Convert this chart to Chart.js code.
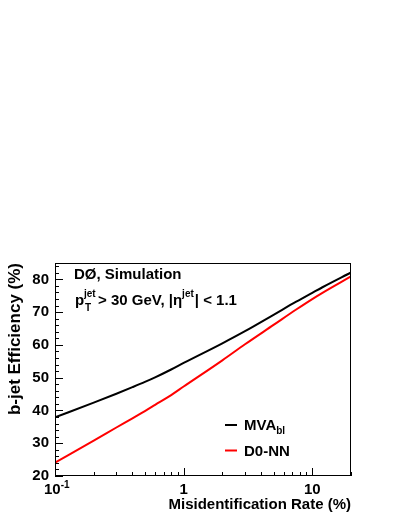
<!DOCTYPE html>
<html>
<head>
<meta charset="utf-8">
<title>b-jet efficiency</title>
<script src="https://cdn.jsdelivr.net/npm/chart.js@4.4.1/dist/chart.umd.min.js"></script>
<style>
  html, body { margin: 0; padding: 0; background: #fff; }
  #wrap { width: 399px; height: 516px; }
</style>
</head>
<body>
<div id="wrap"><canvas id="effChart" width="399" height="516"></canvas></div>
<script>
'use strict';

// misidentification rate (%) and b-jet efficiency (%)
let misidRate = [0.1, 0.2, 0.3, 0.4, 0.5, 0.6, 0.8, 1, 2, 3, 5, 7.5, 10, 12, 20];
let mvaEff = [37.9, 42.4, 45.1, 47.1, 48.7, 50.1, 52.5, 54.5, 60.5, 64.2, 69.2, 73.2, 75.9, 77.6, 82.1];
let nnEff = [24.1, 30.8, 34.8, 37.6, 39.8, 41.7, 44.7, 47.3, 55.3, 60.2, 66.1, 70.8, 74.0, 75.9, 80.9];

let yTicks = [20, 30, 40, 50, 60, 70, 80];
let xTicks = [0.1, 1, 10];
let xTickLabels = ['10', '1', '10'];

let font = '"Liberation Sans", Arial, Helvetica, sans-serif';

function toPoints(xs, ys) {
  let pts = [];
  for (let i = 0; i < xs.length; i++) {
    pts.push({ x: xs[i], y: ys[i] });
  }
  return pts;
}

// draws text pieces one after another, some raised or lowered
function drawPieces(ctx, x, y, pieces) {
  let cx = x;
  for (let i = 0; i < pieces.length; i++) {
    let p = pieces[i];
    ctx.font = 'bold ' + (p.size || 15) + 'px ' + font;
    ctx.fillText(p.t, cx, y + (p.dy || 0));
    cx += ctx.measureText(p.t).width + (p.gap || 0);
  }
}

let rootFrame = {
  id: 'rootFrame',
  afterDraw(chart) {
    let ctx = chart.ctx;
    let a = chart.chartArea;
    let xs = chart.scales.x;
    let ys = chart.scales.y;
    ctx.save();

    // frame
    ctx.strokeStyle = '#000';
    ctx.lineWidth = 1;
    ctx.strokeRect(a.left + 0.5, a.top + 0.5, a.right - a.left - 1, a.bottom - a.top - 1);

    // y ticks, inside the frame
    ctx.beginPath();
    for (let v = 20; v <= 85; v += 2) {
      let py = Math.round(ys.getPixelForValue(v)) + 0.5;
      let len = (v % 10 === 0) ? 8 : 4;
      ctx.moveTo(a.left, py);
      ctx.lineTo(a.left + len, py);
    }
    // x ticks
    for (let dec = 0.1; dec < 20; dec *= 10) {
      for (let m = 1; m <= 9; m++) {
        let v = dec * m;
        if (v > 20) break;
        let px = Math.round(xs.getPixelForValue(v)) + 0.5;
        let len = (m === 1) ? 8 : 4;
        ctx.moveTo(px, a.bottom);
        ctx.lineTo(px, a.bottom - len);
      }
    }
    ctx.stroke();

    ctx.fillStyle = '#000';
    ctx.textBaseline = 'middle';
    ctx.textAlign = 'right';
    ctx.font = 'bold 15px ' + font;
    for (let i = 0; i < yTicks.length; i++) {
      ctx.fillText(String(yTicks[i]), a.left - 6, ys.getPixelForValue(yTicks[i]));
    }

    // x tick labels
    ctx.textBaseline = 'alphabetic';
    ctx.textAlign = 'left';
    for (let i = 0; i < xTicks.length; i++) {
      let px = xs.getPixelForValue(xTicks[i]);
      if (i === 0) {
        drawPieces(ctx, px - 11, 494, [{ t: '10' }, { t: '-1', size: 10, dy: -6 }]);
      } else {
        ctx.font = 'bold 15px ' + font;
        let w = ctx.measureText(xTickLabels[i]).width;
        ctx.fillText(xTickLabels[i], px - w / 2, 494);
      }
    }

    // axis titles
    ctx.font = 'bold 15px ' + font;
    ctx.textAlign = 'right';
    ctx.fillText('Misidentification Rate (%)', a.right, 509);

    ctx.save();
    ctx.translate(20, a.top);
    ctx.rotate(-Math.PI / 2);
    ctx.font = 'bold 17px ' + font;
    ctx.textAlign = 'right';
    ctx.fillText('b-jet Efficiency (%)', 0, 0);
    ctx.restore();

    // labels inside the frame
    ctx.textAlign = 'left';
    ctx.font = 'bold 15px ' + font;
    ctx.fillText('D\u00d8, Simulation', 74, 279);

    ctx.font = 'bold 15px ' + font;
    ctx.fillText('p', 75, 305);
    ctx.font = 'bold 10px ' + font;
    ctx.fillText('jet', 84, 297);
    ctx.fillText('T', 85, 311);
    drawPieces(ctx, 98, 305, [
      { t: '> 30 GeV, |\u03b7' },
      { t: 'jet', size: 10, dy: -8, gap: 1 },
      { t: '| < 1.1' }
    ]);

    // legend
    ctx.lineWidth = 2;
    ctx.strokeStyle = '#000';
    ctx.beginPath();
    ctx.moveTo(225, 425);
    ctx.lineTo(237, 425);
    ctx.stroke();
    ctx.strokeStyle = '#ff0000';
    ctx.beginPath();
    ctx.moveTo(225, 450.5);
    ctx.lineTo(237, 450.5);
    ctx.stroke();
    drawPieces(ctx, 244, 430, [{ t: 'MVA' }, { t: 'bl', size: 10, dy: 4 }]);
    drawPieces(ctx, 244, 456, [{ t: 'D0-NN' }]);

    ctx.restore();
  }
};

const ctx = document.getElementById('effChart');

new Chart(ctx, {
  type: 'line',
  data: {
    datasets: [
      {
        label: 'MVAbl',
        data: toPoints(misidRate, mvaEff),
        borderColor: '#000000',
        borderWidth: 2,
        pointRadius: 0,
        cubicInterpolationMode: 'monotone',
        fill: false,
      },
      {
        label: 'D0-NN',
        data: toPoints(misidRate, nnEff),
        borderColor: '#ff0000',
        borderWidth: 2,
        pointRadius: 0,
        cubicInterpolationMode: 'monotone',
        fill: false,
      },
    ],
  },
  options: {
    responsive: false,
    animation: false,
    layout: {
      padding: { left: 55, top: 263, right: 48, bottom: 40 },
    },
    plugins: {
      legend: { display: false },
      tooltip: { enabled: false },
    },
    scales: {
      x: { type: 'logarithmic', min: 0.1, max: 20, display: false },
      y: { type: 'linear', min: 20, max: 85, display: false },
    },
  },
  plugins: [rootFrame],
});
</script>
</body>
</html>
